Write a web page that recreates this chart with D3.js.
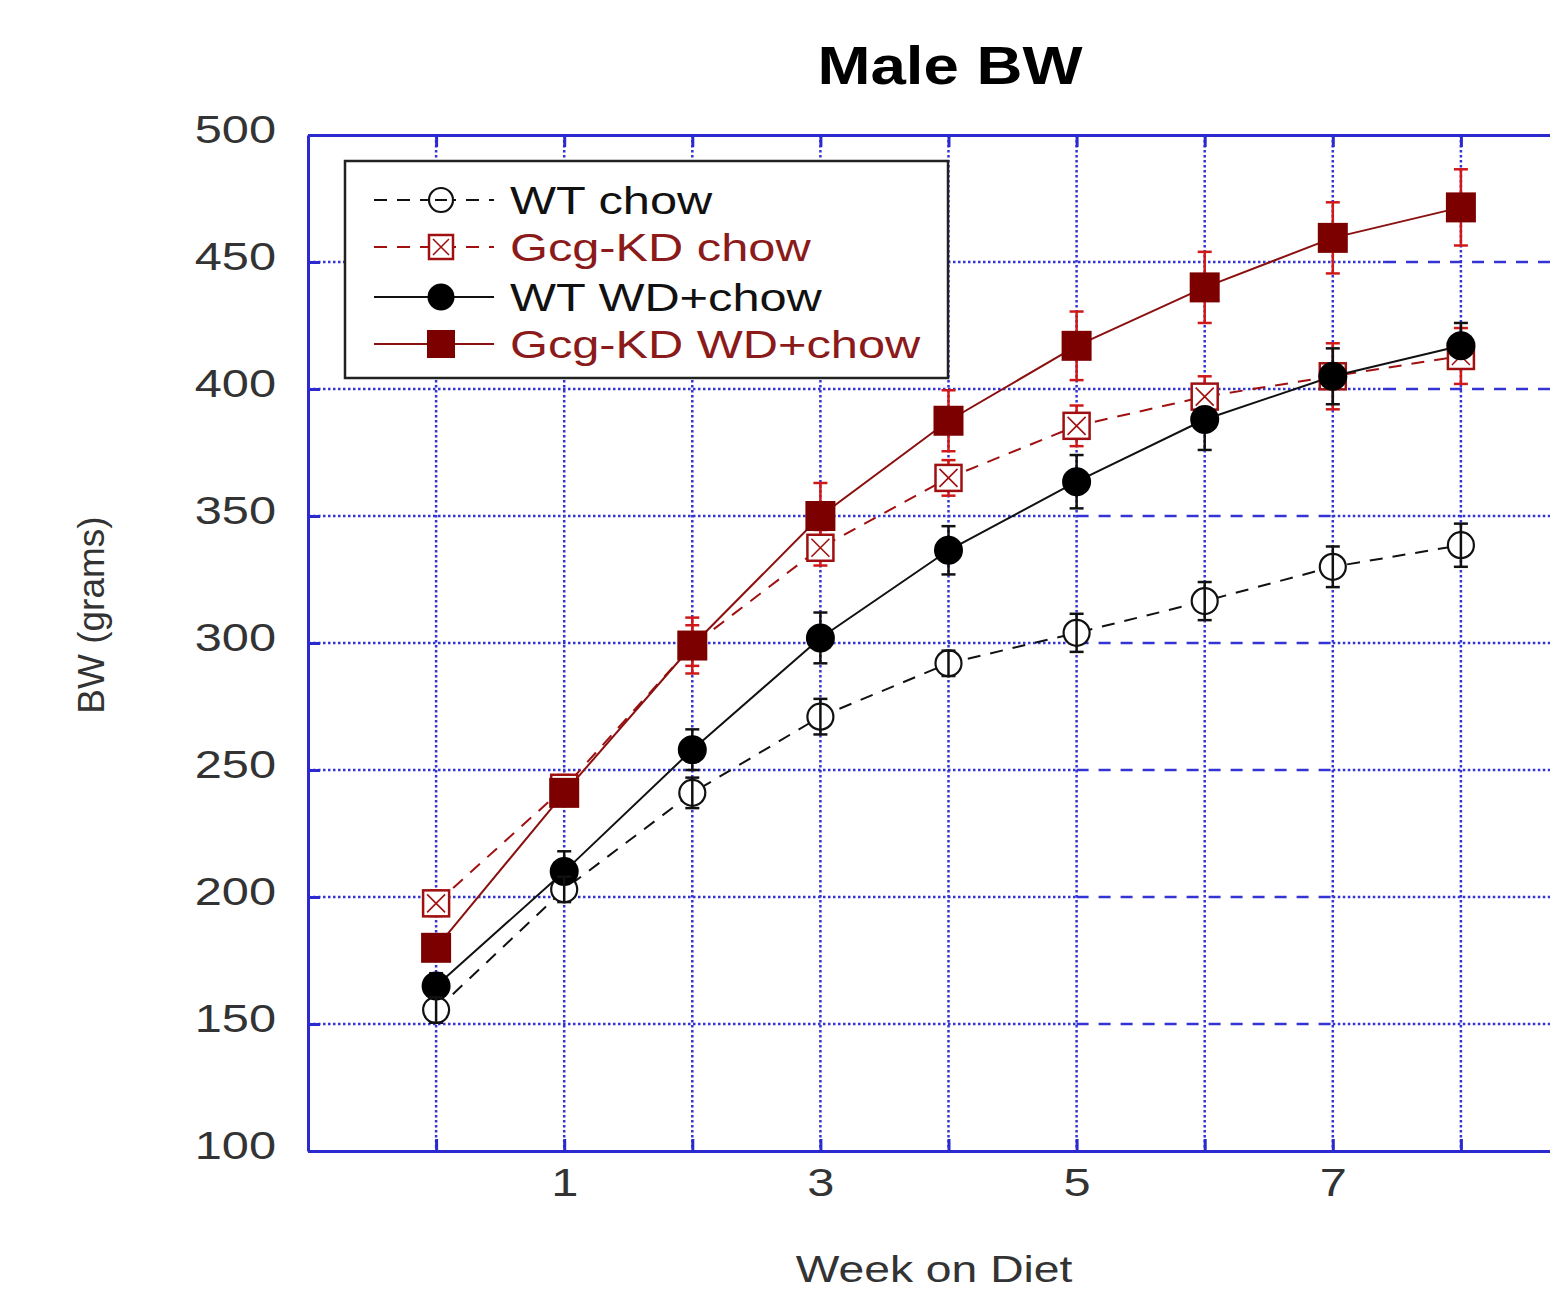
<!DOCTYPE html>
<html>
<head>
<meta charset="utf-8">
<script src="https://cdn.jsdelivr.net/npm/d3@7"></script>
<style>
  body { margin: 0; background: #fff; }
  svg { display: block; font-family: "Liberation Sans", Arial, sans-serif; }
</style>
</head>
<body>
<script>
// values (grams), week 0..8
const weeks = [0, 1, 2, 3, 4, 5, 6, 7, 8];
const wtChow     = [155.5, 203, 241, 271, 292, 304, 316.5, 330, 338.5];
const wtChowErr  = [5, 5, 6, 7, 5, 7.5, 7.5, 8, 8.5];
const kdChow     = [197.5, 243, 299, 337.5, 365, 385.5, 397, 405, 413];
const kdChowErr  = [5, 5, 8, 7, 7, 8, 8, 13, 11];
const wtWd       = [165, 210, 258, 302, 336.5, 363.5, 388, 405, 417];
const wtWdErr    = [5, 8, 8, 10, 9.5, 10.5, 12, 11, 9];
const kdWd       = [180, 241, 299, 350, 387.5, 417, 440, 459.5, 471.5];
const kdWdErr    = [4, 5, 11, 13, 12, 13.5, 14, 14, 15];
const yTicks = [100, 150, 200, 250, 300, 350, 400, 450, 500];
const seriesNames = ["WT chow", "Gcg-KD chow", "WT WD+chow", "Gcg-KD WD+chow"];

const darkRed = "#7d0000", errRed = "#d01818", textRed = "#8b1a1a";
const blue = "#2a2ad0";
const stretch = "scale(1.25,1)";

const series = [
  {name: seriesNames[0], vals: wtChow, err: wtChowErr, line: "#111", dash: "13,10", marker: "ocircle", errColor: "#111", textColor: "#111"},
  {name: seriesNames[1], vals: kdChow, err: kdChowErr, line: "#a01010", dash: "13,10", marker: "xsquare", errColor: errRed, textColor: textRed},
  {name: seriesNames[2], vals: wtWd, err: wtWdErr, line: "#111", dash: null, marker: "fcircle", errColor: "#111", textColor: "#111"},
  {name: seriesNames[3], vals: kdWd, err: kdWdErr, line: "#8b1010", dash: null, marker: "fsquare", errColor: errRed, textColor: textRed}
];

const W = 1550, H = 1293;
const svg = d3.select("body").append("svg").attr("width", W).attr("height", H);

const x = d3.scaleLinear().domain([-1, 9]).range([308, 1589]);
const y = d3.scaleLinear().domain([100, 500]).range([1151, 135]);

// grid
let grid = svg.append("g").attr("id", "grid");
grid.selectAll("line.v").data(weeks).enter().append("line")
    .attr("x1", d => x(d)).attr("x2", d => x(d))
    .attr("y1", y(500)).attr("y2", y(100))
    .style("stroke", "#3434d4").style("stroke-width", 2.5)
    .style("stroke-dasharray", "2.5,2.5");

// horizontal grid lines: dotted, with the dashed stretches seen in the picture
function spans(v) {
    if (v >= 400) return [[-1, 7.4, "dot"], [7.4, 9, "dash"]];
    return [[-1, 5, "dot"], [5, 7, "dash"], [7, 9, "dot"]];
}
let hsegs = [];
yTicks.filter(v => v > 100 && v < 500).forEach(v => {
    spans(v).forEach(s => hsegs.push({v: v, a: s[0], b: s[1], kind: s[2]}));
});
grid.selectAll("line.h").data(hsegs).enter().append("line")
    .attr("x1", d => x(d.a)).attr("x2", d => x(d.b))
    .attr("y1", d => y(d.v)).attr("y2", d => y(d.v))
    .style("stroke", "#3434d4")
    .style("stroke-width", 2.5)
    .style("stroke-dasharray", d => d.kind == "dot" ? "2.5,2.5" : "12,10");

// axes (ticks point inward)
let xAxis = d3.axisBottom(x).tickValues(weeks).tickSize(-12).tickSizeOuter(0).tickPadding(17)
    .tickFormat(d => d % 2 ? d : "");
let gx = svg.append("g").attr("transform", "translate(0," + y(100) + ")").call(xAxis);
let gtop = svg.append("g").attr("transform", "translate(0," + y(500) + ")")
    .call(d3.axisTop(x).tickValues(weeks).tickSize(-12).tickSizeOuter(0).tickFormat(""));
let gy = svg.append("g").attr("transform", "translate(" + x(-1) + ",0)")
    .call(d3.axisLeft(y).tickValues(yTicks).tickSize(-12).tickSizeOuter(0).tickPadding(25.6));

[gx, gtop, gy].forEach(g => {
    g.select(".domain").style("stroke", blue).style("stroke-width", 3);
    g.selectAll(".tick line").style("stroke", blue).style("stroke-width", 3);
    g.selectAll(".tick text").style("font-size", "39px").style("fill", "#333")
        .style("font-family", "Liberation Sans, Arial, sans-serif")
        .attr("transform", stretch);
});
gy.selectAll(".tick text").attr("dy", "0.2em");

// lines
let line = d3.line().x((d, i) => x(weeks[i])).y(d => y(d));
svg.append("g").selectAll("path").data(series).enter().append("path")
    .attr("d", d => line(d.vals))
    .style("fill", "none").style("stroke", d => d.line).style("stroke-width", 2)
    .style("stroke-dasharray", d => d.dash);

// error bars
function errorBars(g, s) {
    let pts = s.vals.map((v, i) => ({w: weeks[i], v: v, e: s.err[i]}));
    let eg = g.append("g");
    eg.selectAll("line.stem").data(pts).enter().append("line")
        .attr("x1", d => x(d.w)).attr("x2", d => x(d.w))
        .attr("y1", d => y(d.v - d.e)).attr("y2", d => y(d.v + d.e));
    eg.selectAll("line.cap").data(pts.flatMap(p => [p.v - p.e, p.v + p.e].map(c => ({w: p.w, c: c}))))
        .enter().append("line")
        .attr("x1", d => x(d.w) - 7).attr("x2", d => x(d.w) + 7)
        .attr("y1", d => y(d.c)).attr("y2", d => y(d.c));
    eg.selectAll("line").style("stroke", s.errColor).style("stroke-width", 2.5);
}

function drawMarker(g, kind, cx, cy, size) {
    let r = size / 2;
    if (kind == "ocircle") {
        g.append("circle").attr("cx", cx).attr("cy", cy).attr("r", r)
            .style("fill", "#fff").style("stroke", "#111").style("stroke-width", 2.2);
    } else if (kind == "fcircle") {
        g.append("circle").attr("cx", cx).attr("cy", cy).attr("r", r + 1.5).style("fill", "#000");
    } else if (kind == "xsquare") {
        g.append("rect").attr("x", cx - r).attr("y", cy - r).attr("width", size).attr("height", size)
            .style("fill", "#fff").style("stroke", "#a01010").style("stroke-width", 2.5);
        let k = r - 4;
        g.append("path").attr("d", `M${cx - k},${cy - k}L${cx + k},${cy + k}M${cx + k},${cy - k}L${cx - k},${cy + k}`)
            .style("stroke", "#a01010").style("stroke-width", 1.6);
    } else {
        g.append("rect").attr("x", cx - r - 2).attr("y", cy - r - 2).attr("width", size + 4).attr("height", size + 4)
            .style("fill", darkRed);
    }
}

let dataG = svg.append("g");
series.forEach(s => { if (s.marker != "ocircle") errorBars(dataG, s); });
series.forEach(s => {
    s.vals.forEach((v, i) => drawMarker(dataG, s.marker, x(weeks[i]), y(v), 26));
});
series.forEach(s => { if (s.marker == "ocircle") errorBars(dataG, s); });

// legend
let lg = svg.append("g");
lg.append("rect").attr("x", 345).attr("y", 161).attr("width", 603).attr("height", 217)
    .style("fill", "#fff").style("stroke", "#222").style("stroke-width", 2.5);
let rowY = [200, 247, 297, 344];
series.forEach((s, i) => {
    let cy = rowY[i];
    lg.append("line").attr("x1", 374).attr("x2", 494).attr("y1", cy).attr("y2", cy)
        .style("stroke", s.line).style("stroke-width", 2.2).style("stroke-dasharray", s.dash);
    drawMarker(lg, s.marker, 441, cy, 24);
    if (s.marker == "ocircle") {
        lg.append("line").attr("x1", 435).attr("x2", 447).attr("y1", cy).attr("y2", cy)
            .style("stroke", "#111").style("stroke-width", 2);
    }
    lg.append("text").attr("transform", "translate(510," + (cy + 14) + ") " + stretch)
        .style("font-size", "39px").style("fill", s.textColor).text(s.name);
});

// titles
svg.append("text").attr("transform", "translate(950,84) scale(1.2,1)")
    .attr("text-anchor", "middle").style("font-size", "53px").style("font-weight", "bold")
    .style("fill", "#000").text("Male BW");
svg.append("text").attr("transform", "translate(934,1282) " + stretch)
    .attr("text-anchor", "middle").style("font-size", "37px").style("fill", "#333")
    .text("Week on Diet");
svg.append("text").attr("transform", "translate(104,615) rotate(-90)")
    .attr("text-anchor", "middle").style("font-size", "37px").style("fill", "#333")
    .text("BW (grams)");
</script>
</body>
</html>
